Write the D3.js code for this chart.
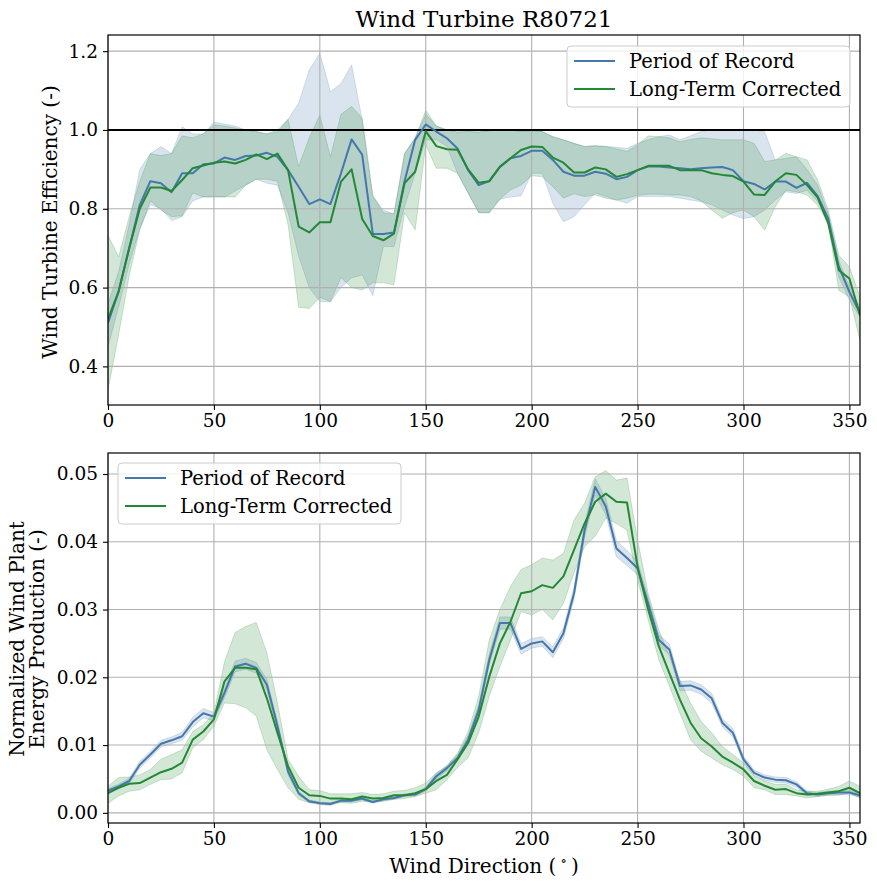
<!DOCTYPE html>
<html>
<head>
<meta charset="utf-8">
<script src="https://cdn.jsdelivr.net/npm/d3@7"></script>
<style>
  body { margin: 0; background: #fff; }
  svg text { font-family: "DejaVu Serif", serif; fill: #000; }
</style>
</head>
<body>
<svg id="chart" width="877" height="888"></svg>
<script>
// Wind direction bins (degrees)
const directions = [0, 5, 10, 15, 20, 25, 30, 35, 40, 45, 50, 55, 60, 65, 70, 75, 80, 85,
  90, 95, 100, 105, 110, 115, 120, 125, 130, 135, 140, 145, 150, 155, 160, 165, 170, 175,
  180, 185, 190, 195, 200, 205, 210, 215, 220, 225, 230, 235, 240, 245, 250, 255, 260, 265,
  270, 275, 280, 285, 290, 295, 300, 305, 310, 315, 320, 325, 330, 335, 340, 345, 350, 355];

const seriesNames = ["Period of Record", "Long-Term Corrected"];
const xTicks = [0, 50, 100, 150, 200, 250, 300, 350];
const effTicks = [0.4, 0.6, 0.8, 1.0, 1.2];
const energyTicks = [0.00, 0.01, 0.02, 0.03, 0.04, 0.05];

// Top panel: turbine efficiency
const porEff = [0.51, 0.59, 0.70, 0.81, 0.87, 0.865, 0.842, 0.89, 0.89, 0.913, 0.915, 0.93, 0.924, 0.934, 0.935, 0.942, 0.932, 0.898,
  0.856, 0.812, 0.824, 0.812, 0.89, 0.976, 0.937, 0.736, 0.736, 0.74, 0.87, 0.975, 1.014, 0.996, 0.979, 0.953, 0.898, 0.86,
  0.87, 0.907, 0.928, 0.934, 0.947, 0.947, 0.924, 0.894, 0.884, 0.884, 0.894, 0.889, 0.875, 0.881, 0.898, 0.907, 0.907, 0.905,
  0.903, 0.900, 0.903, 0.905, 0.906, 0.898, 0.870, 0.863, 0.849, 0.869, 0.869, 0.853, 0.866, 0.832, 0.775, 0.653, 0.589, 0.535];
const porEffLo = [0.45, 0.55, 0.66, 0.75, 0.81, 0.80, 0.77, 0.78, 0.82, 0.83, 0.83, 0.83, 0.845, 0.86, 0.875, 0.865, 0.86, 0.79,
  0.68, 0.60, 0.564, 0.564, 0.60, 0.625, 0.632, 0.58, 0.704, 0.704, 0.805, 0.89, 0.975, 0.975, 0.958, 0.89, 0.84, 0.79,
  0.79, 0.824, 0.83, 0.833, 0.89, 0.89, 0.814, 0.767, 0.78, 0.81, 0.84, 0.831, 0.822, 0.814, 0.831, 0.831, 0.831, 0.831,
  0.827, 0.822, 0.818, 0.81, 0.797, 0.784, 0.775, 0.78, 0.797, 0.822, 0.843, 0.839, 0.847, 0.818, 0.767, 0.627, 0.568, 0.525];
const porEffHi = [0.56, 0.64, 0.76, 0.90, 0.94, 0.958, 0.94, 1.008, 0.99, 0.99, 1.02, 1.015, 1.01, 1.0, 0.996, 0.99, 0.995, 1.027,
  1.068, 1.152, 1.195, 1.097, 1.118, 1.165, 1.025, 0.83, 0.797, 0.787, 0.94, 0.98, 1.04, 1.01, 1.0, 0.995, 0.996, 0.995,
  0.998, 1.0, 1.0, 0.996, 0.998, 0.996, 0.983, 0.975, 0.966, 0.958, 0.96, 0.958, 0.956, 0.953, 0.966, 0.975, 0.983, 0.987,
  0.975, 0.985, 0.996, 1.0, 1.0, 1.0, 1.0, 1.0, 0.995, 0.924, 0.928, 0.932, 0.90, 0.86, 0.788, 0.669, 0.602, 0.55];
const ltcEff = [0.52, 0.59, 0.70, 0.80, 0.854, 0.854, 0.845, 0.873, 0.903, 0.91, 0.917, 0.92, 0.915, 0.924, 0.938, 0.926, 0.94, 0.898,
  0.755, 0.74, 0.766, 0.766, 0.869, 0.90, 0.774, 0.731, 0.72, 0.737, 0.865, 0.894, 0.997, 0.959, 0.951, 0.95, 0.90, 0.866,
  0.87, 0.906, 0.928, 0.949, 0.958, 0.957, 0.93, 0.917, 0.892, 0.892, 0.905, 0.90, 0.881, 0.888, 0.898, 0.909, 0.909, 0.909,
  0.898, 0.898, 0.898, 0.89, 0.886, 0.883, 0.869, 0.836, 0.835, 0.869, 0.89, 0.886, 0.860, 0.829, 0.763, 0.644, 0.623, 0.53];
const ltcEffLo = [0.34, 0.48, 0.63, 0.746, 0.82, 0.797, 0.78, 0.782, 0.84, 0.83, 0.83, 0.83, 0.83, 0.86, 0.875, 0.875, 0.87, 0.76,
  0.55, 0.547, 0.575, 0.564, 0.625, 0.60, 0.594, 0.612, 0.612, 0.607, 0.79, 0.746, 0.962, 0.903, 0.903, 0.89, 0.84, 0.79,
  0.79, 0.824, 0.848, 0.86, 0.884, 0.881, 0.856, 0.827, 0.838, 0.831, 0.835, 0.827, 0.822, 0.827, 0.834, 0.837, 0.837, 0.835,
  0.835, 0.831, 0.82, 0.797, 0.776, 0.79, 0.797, 0.78, 0.746, 0.805, 0.847, 0.843, 0.835, 0.809, 0.763, 0.593, 0.576, 0.466];
const ltcEffHi = [0.733, 0.678, 0.78, 0.87, 0.94, 0.935, 0.94, 0.985, 0.98, 0.99, 1.013, 1.01, 1.005, 1.0, 0.996, 0.99, 1.0, 1.027,
  0.907, 0.98, 1.038, 0.932, 1.04, 1.06, 1.03, 0.835, 0.79, 0.787, 0.94, 0.98, 1.05, 1.01, 1.0, 0.995, 0.996, 0.995,
  0.998, 1.0, 1.0, 0.996, 0.998, 0.996, 0.983, 0.975, 0.966, 0.958, 0.96, 0.958, 0.952, 0.946, 0.962, 0.985, 0.983, 0.98,
  0.97, 0.976, 0.98, 0.978, 0.975, 0.975, 0.975, 0.966, 0.92, 0.924, 0.941, 0.932, 0.924, 0.873, 0.797, 0.682, 0.653, 0.576];

// Bottom panel: normalized energy production
const porEnergy = [0.0033, 0.0039, 0.0047, 0.0071, 0.0086, 0.0102, 0.0107, 0.0113, 0.0134, 0.0147, 0.0142, 0.0177, 0.0216, 0.0220, 0.0214, 0.0189, 0.0128, 0.0061,
  0.0029, 0.0017, 0.0014, 0.0013, 0.0018, 0.0018, 0.0021, 0.0016, 0.0020, 0.0022, 0.0026, 0.0027, 0.0035, 0.0054, 0.0066, 0.0081, 0.0108, 0.0152,
  0.0226, 0.0280, 0.0280, 0.0242, 0.0250, 0.0253, 0.0237, 0.0265, 0.0324, 0.0417, 0.0481, 0.0452, 0.0390, 0.0376, 0.0361, 0.0309, 0.0255, 0.0241,
  0.0187, 0.0188, 0.0182, 0.0169, 0.0133, 0.0118, 0.0079, 0.0059, 0.0052, 0.0049, 0.0048, 0.0042, 0.0029, 0.0027, 0.0029, 0.0030, 0.0030, 0.0026];
const porEnergyLo = [0.0030, 0.0036, 0.0043, 0.0066, 0.0081, 0.0097, 0.0102, 0.0107, 0.0127, 0.0140, 0.0136, 0.0170, 0.0208, 0.0212, 0.0206, 0.0181, 0.0121, 0.0056,
  0.0026, 0.0015, 0.0012, 0.0011, 0.0016, 0.0016, 0.0019, 0.0014, 0.0018, 0.0020, 0.0024, 0.0025, 0.0032, 0.0050, 0.0062, 0.0076, 0.0102, 0.0145,
  0.0218, 0.0271, 0.0271, 0.0234, 0.0243, 0.0246, 0.0229, 0.0257, 0.0315, 0.0407, 0.0469, 0.0440, 0.0378, 0.0365, 0.0351, 0.0300, 0.0247, 0.0233,
  0.0180, 0.0181, 0.0175, 0.0162, 0.0127, 0.0112, 0.0074, 0.0055, 0.0048, 0.0045, 0.0044, 0.0038, 0.0026, 0.0024, 0.0026, 0.0027, 0.0027, 0.0023];
const porEnergyHi = [0.0036, 0.0042, 0.0051, 0.0076, 0.0091, 0.0107, 0.0112, 0.0119, 0.0141, 0.0154, 0.0148, 0.0184, 0.0224, 0.0228, 0.0222, 0.0197, 0.0135, 0.0066,
  0.0032, 0.0019, 0.0016, 0.0015, 0.0020, 0.0020, 0.0023, 0.0018, 0.0022, 0.0024, 0.0028, 0.0029, 0.0038, 0.0058, 0.0070, 0.0086, 0.0114, 0.0159,
  0.0234, 0.0289, 0.0289, 0.0250, 0.0257, 0.0260, 0.0245, 0.0273, 0.0333, 0.0427, 0.0493, 0.0464, 0.0402, 0.0387, 0.0371, 0.0318, 0.0263, 0.0249,
  0.0194, 0.0195, 0.0189, 0.0176, 0.0139, 0.0124, 0.0084, 0.0063, 0.0056, 0.0053, 0.0052, 0.0046, 0.0032, 0.0030, 0.0032, 0.0033, 0.0033, 0.0029];
const ltcEnergy = [0.0029, 0.0037, 0.0043, 0.0044, 0.0052, 0.0060, 0.0065, 0.0074, 0.0108, 0.0120, 0.0138, 0.0194, 0.0214, 0.0214, 0.0212, 0.0169, 0.0118, 0.0069,
  0.0037, 0.0026, 0.0025, 0.0021, 0.0021, 0.0020, 0.0024, 0.0021, 0.0022, 0.0026, 0.0026, 0.0029, 0.0035, 0.0047, 0.0056, 0.0079, 0.0103, 0.0142,
  0.0201, 0.0250, 0.0282, 0.0324, 0.0327, 0.0336, 0.0332, 0.0349, 0.0388, 0.0427, 0.0459, 0.0471, 0.0459, 0.0458, 0.0363, 0.0300, 0.0246, 0.0206,
  0.0167, 0.0133, 0.0110, 0.0098, 0.0083, 0.0074, 0.0064, 0.0047, 0.0040, 0.0034, 0.0035, 0.0029, 0.0027, 0.0028, 0.0030, 0.0032, 0.0037, 0.0029];
const ltcEnergyLo = [0.0014, 0.0025, 0.0032, 0.0034, 0.0042, 0.0049, 0.0050, 0.0059, 0.0096, 0.0108, 0.0128, 0.0162, 0.0161, 0.0155, 0.0143, 0.0093, 0.0064, 0.0037,
  0.0020, 0.0015, 0.0015, 0.0015, 0.0015, 0.0014, 0.0017, 0.0016, 0.0017, 0.0020, 0.0021, 0.0024, 0.0029, 0.0034, 0.0049, 0.0067, 0.0081, 0.0118,
  0.0172, 0.0216, 0.0255, 0.0297, 0.0292, 0.0300, 0.0285, 0.0309, 0.0354, 0.0393, 0.0408, 0.0435, 0.0427, 0.0417, 0.0344, 0.0285, 0.0226, 0.0187,
  0.0147, 0.0108, 0.0091, 0.0081, 0.0071, 0.0064, 0.0054, 0.0037, 0.0034, 0.0027, 0.0027, 0.0025, 0.0022, 0.0024, 0.0026, 0.0026, 0.0029, 0.0022];
const ltcEnergyHi = [0.0039, 0.0052, 0.0053, 0.0056, 0.0064, 0.0079, 0.0086, 0.0093, 0.0120, 0.0130, 0.0147, 0.0223, 0.0266, 0.0275, 0.0281, 0.0236, 0.0162, 0.0079,
  0.0054, 0.0034, 0.0033, 0.0028, 0.0028, 0.0028, 0.0030, 0.0027, 0.0028, 0.0032, 0.0033, 0.0037, 0.0044, 0.0059, 0.0069, 0.0088, 0.0120, 0.0172,
  0.0255, 0.0300, 0.0334, 0.0359, 0.0366, 0.0376, 0.0373, 0.0383, 0.0432, 0.0457, 0.0496, 0.0505, 0.0491, 0.0494, 0.0403, 0.0324, 0.0270, 0.0231,
  0.0196, 0.0162, 0.0135, 0.0118, 0.0098, 0.0086, 0.0074, 0.0054, 0.0047, 0.0042, 0.0042, 0.0034, 0.0032, 0.0032, 0.0035, 0.0039, 0.0047, 0.0039];

const colors = ["#4477aa", "#228833"];

/** One axes box with a band + line per series. */
class DirectionPanel {
  constructor(svg, box, yDomain, yTicks, yFormat, id) {
    this.svg = svg;
    this.box = box;
    this.id = id;
    this.yTicks = yTicks;
    this.yFormat = yFormat;

    // Setup the scales
    this.x = d3.scaleLinear().domain([0, 355]).range([box.left, box.right]);
    this.y = d3.scaleLinear().domain(yDomain).range([box.bottom, box.top]);

    svg.append("clipPath").attr("id", "clip-" + id)
      .append("rect")
      .attr("x", box.left).attr("y", box.top)
      .attr("width", box.right - box.left).attr("height", box.bottom - box.top);

    this.bandLayer = svg.append("g").attr("clip-path", `url(#clip-${id})`);
    this.gridLayer = svg.append("g");
    this.lineLayer = svg.append("g").attr("clip-path", `url(#clip-${id})`);
  }

  drawBand(lo, hi, color) {
    let rows = directions.map((d, i) => ({dir: d, lo: lo[i], hi: hi[i]}));
    let area = d3.area()
      .x(d => this.x(d.dir))
      .y0(d => this.y(d.lo))
      .y1(d => this.y(d.hi));
    this.bandLayer.append("path")
      .datum(rows)
      .attr("d", area)
      .attr("fill", color)
      .attr("fill-opacity", 0.2)
      .attr("stroke", color)
      .attr("stroke-opacity", 0.2)
      .attr("stroke-width", 1);
  }

  drawLine(values, color) {
    let rows = directions.map((d, i) => ({dir: d, v: values[i]}));
    let line = d3.line().x(d => this.x(d.dir)).y(d => this.y(d.v));
    this.lineLayer.append("path")
      .datum(rows)
      .attr("d", line)
      .attr("fill", "none")
      .attr("stroke", color)
      .attr("stroke-width", 2)
      .attr("stroke-linejoin", "round");
  }

  drawGrid() {
    let b = this.box;
    this.gridLayer.selectAll(".vgrid").data(xTicks).enter()
      .append("line")
      .attr("x1", d => this.x(d)).attr("x2", d => this.x(d))
      .attr("y1", b.top).attr("y2", b.bottom)
      .attr("stroke", "#b0b0b0").attr("stroke-width", 1.1);
    this.gridLayer.selectAll(".hgrid").data(this.yTicks).enter()
      .append("line")
      .attr("x1", b.left).attr("x2", b.right)
      .attr("y1", d => this.y(d)).attr("y2", d => this.y(d))
      .attr("stroke", "#b0b0b0").attr("stroke-width", 1.1);
  }

  drawAxes() {
    let b = this.box;
    let xAxis = d3.axisBottom(this.x).tickValues(xTicks).tickSize(5).tickPadding(4);
    let gx = this.svg.append("g")
      .attr("transform", `translate(0,${b.bottom})`)
      .call(xAxis);
    let yAxis = d3.axisLeft(this.y).tickValues(this.yTicks).tickSize(5).tickPadding(5)
      .tickFormat(this.yFormat);
    let gy = this.svg.append("g")
      .attr("transform", `translate(${b.left},0)`)
      .call(yAxis);

    [gx, gy].forEach(g => {
      g.select(".domain").remove();
      g.selectAll(".tick line").attr("stroke", "#000").attr("stroke-width", 1.1);
      g.selectAll(".tick text").attr("font-size", 18.5).attr("fill", "#000")
        .attr("font-family", "DejaVu Serif");
    });

    // frame
    this.svg.append("rect")
      .attr("x", b.left).attr("y", b.top)
      .attr("width", b.right - b.left).attr("height", b.bottom - b.top)
      .attr("fill", "none").attr("stroke", "#000").attr("stroke-width", 1.2);
  }

  drawLegend(lx, ly) {
    let g = this.svg.append("g").attr("transform", `translate(${lx},${ly})`);
    g.append("rect")
      .attr("width", 283).attr("height", 61)
      .attr("rx", 4)
      .attr("fill", "#fff").attr("fill-opacity", 0.8)
      .attr("stroke", "#cccccc").attr("stroke-width", 1);
    seriesNames.forEach((name, i) => {
      let cy = 15 + i * 28;
      g.append("line")
        .attr("x1", 7).attr("x2", 48)
        .attr("y1", cy).attr("y2", cy)
        .attr("stroke", colors[i]).attr("stroke-width", 2);
      g.append("text")
        .attr("x", 62).attr("y", cy)
        .attr("dy", "0.36em")
        .attr("font-size", 19.5)
        .text(name);
    });
  }
}

let svg = d3.select("#chart");

// Top panel: efficiency
let effPanel = new DirectionPanel(svg, {left: 108, right: 860, top: 35, bottom: 405},
  [0.302, 1.241], effTicks, d3.format(".1f"), "eff");
effPanel.drawBand(porEffLo, porEffHi, colors[0]);
effPanel.drawBand(ltcEffLo, ltcEffHi, colors[1]);
effPanel.drawGrid();
effPanel.lineLayer.append("line")
  .attr("x1", effPanel.x(0)).attr("x2", effPanel.x(355))
  .attr("y1", effPanel.y(1.0)).attr("y2", effPanel.y(1.0))
  .attr("stroke", "#000").attr("stroke-width", 2);
effPanel.drawLine(porEff, colors[0]);
effPanel.drawLine(ltcEff, colors[1]);
effPanel.drawAxes();
effPanel.drawLegend(567, 46);

// Bottom panel: energy
let energyPanel = new DirectionPanel(svg, {left: 108, right: 860, top: 453, bottom: 823},
  [-0.0015, 0.0531], energyTicks, d3.format(".2f"), "energy");
energyPanel.drawBand(porEnergyLo, porEnergyHi, colors[0]);
energyPanel.drawBand(ltcEnergyLo, ltcEnergyHi, colors[1]);
energyPanel.drawGrid();
energyPanel.drawLine(porEnergy, colors[0]);
energyPanel.drawLine(ltcEnergy, colors[1]);
energyPanel.drawAxes();
energyPanel.drawLegend(118, 463);

// Titles and labels
svg.append("text")
  .attr("x", 484).attr("y", 27)
  .attr("text-anchor", "middle")
  .attr("font-size", 23)
  .text("Wind Turbine R80721");

svg.append("text")
  .attr("transform", "translate(57,222) rotate(-90)")
  .attr("text-anchor", "middle")
  .attr("font-size", 20)
  .text("Wind Turbine Efficiency (-)");

let energyLabel = svg.append("text")
  .attr("transform", "translate(24,639) rotate(-90)")
  .attr("text-anchor", "middle")
  .attr("font-size", 20);
energyLabel.append("tspan").attr("x", 0).attr("y", 0).text("Normalized Wind Plant");
energyLabel.append("tspan").attr("x", 0).attr("y", 20).text("Energy Production (-)");

let xLabel = svg.append("text")
  .attr("x", 484).attr("y", 873)
  .attr("text-anchor", "middle")
  .attr("font-size", 20);
xLabel.append("tspan").text("Wind Direction (");
xLabel.append("tspan").attr("font-size", 13).attr("dy", -8).text(" \u2218 ");
xLabel.append("tspan").attr("dy", 8).text(")");
</script>
</body>
</html>
